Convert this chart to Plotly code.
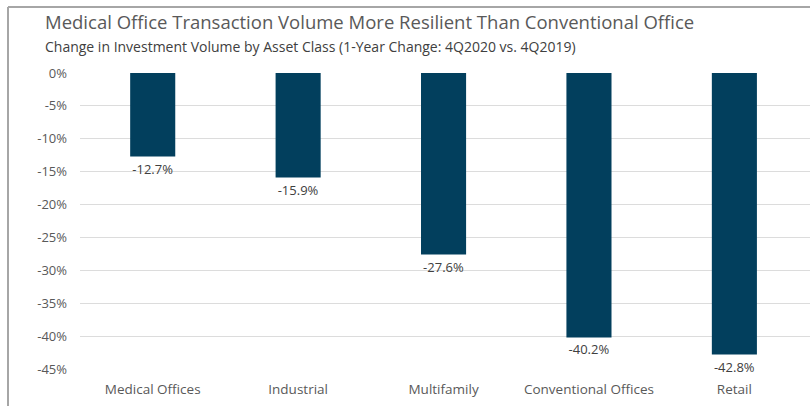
import plotly.graph_objects as go

categories = ["Medical Offices", "Industrial", "Multifamily", "Conventional Offices", "Retail"]
values = [-12.7, -15.9, -27.6, -40.2, -42.8]
tick_vals = [0, -5, -10, -15, -20, -25, -30, -35, -40, -45]
tick_text = ["0%", "-5%", "-10%", "-15%", "-20%", "-25%", "-30%", "-35%", "-40%", "-45%"]
labels = [f"{v:.1f}%" for v in values]

FONT = "Open Sans"
GRAY = "#595959"

fig = go.Figure(go.Bar(
    x=categories, y=values, text=labels, textposition="outside",
    textfont=dict(family=FONT, size=13, color="#404040"),
    marker=dict(color="#023F5D", line=dict(width=0)),
    cliponaxis=False,
))

L, R, T, B = 80, 0, 73, 37
W, H = 810, 406
pw, ph = W - L - R, H - T - B

fig.update_layout(
    width=W, height=H,
    margin=dict(l=L, r=R, t=T, b=B),
    plot_bgcolor="white", paper_bgcolor="white",
    bargap=0.69,
    showlegend=False,
    font=dict(family=FONT, color=GRAY),
    xaxis=dict(range=[-0.5, 4.52], showgrid=False, showline=False, zeroline=False,
               ticks="", ticklabelstandoff=10,
               tickfont=dict(family=FONT, size=13.5, color=GRAY)),
    yaxis=dict(range=[-45, 0], tickvals=tick_vals, ticktext=tick_text,
               showgrid=True, gridcolor="#DCDCDC", gridwidth=1, zeroline=False,
               showline=False, ticks="", ticklabelstandoff=12,
               tickfont=dict(family=FONT, size=13, color=GRAY)),
)

fig.add_annotation(text="Medical Office Transaction Volume More Resilient Than Conventional Office",
                   xref="paper", yref="paper", x=(43 - L) / pw, y=(H - B - 22) / ph,
                   xanchor="left", yanchor="middle", showarrow=False,
                   font=dict(family=FONT, size=18.5, color=GRAY))
fig.add_annotation(text="Change in Investment Volume by Asset Class (1-Year Change: 4Q2020 vs. 4Q2019)",
                   xref="paper", yref="paper", x=(43 - L) / pw, y=(H - B - 46) / ph,
                   xanchor="left", yanchor="middle", showarrow=False,
                   font=dict(family=FONT, size=14, color="#404040"))

# frame: left and top edges
x_left = (8 - L) / pw
y_top = (H - B - 7) / ph
y_bot = (H - B - 420) / ph
fig.add_shape(type="line", xref="paper", yref="paper", x0=x_left, x1=x_left, y0=y_bot, y1=y_top,
              line=dict(color="#A6A6A6", width=2))
fig.add_shape(type="line", xref="paper", yref="paper", x0=x_left, x1=(830 - L) / pw, y0=y_top, y1=y_top,
              line=dict(color="#A6A6A6", width=2))

fig.write_html("out.html", config={"displayModeBar": False})
